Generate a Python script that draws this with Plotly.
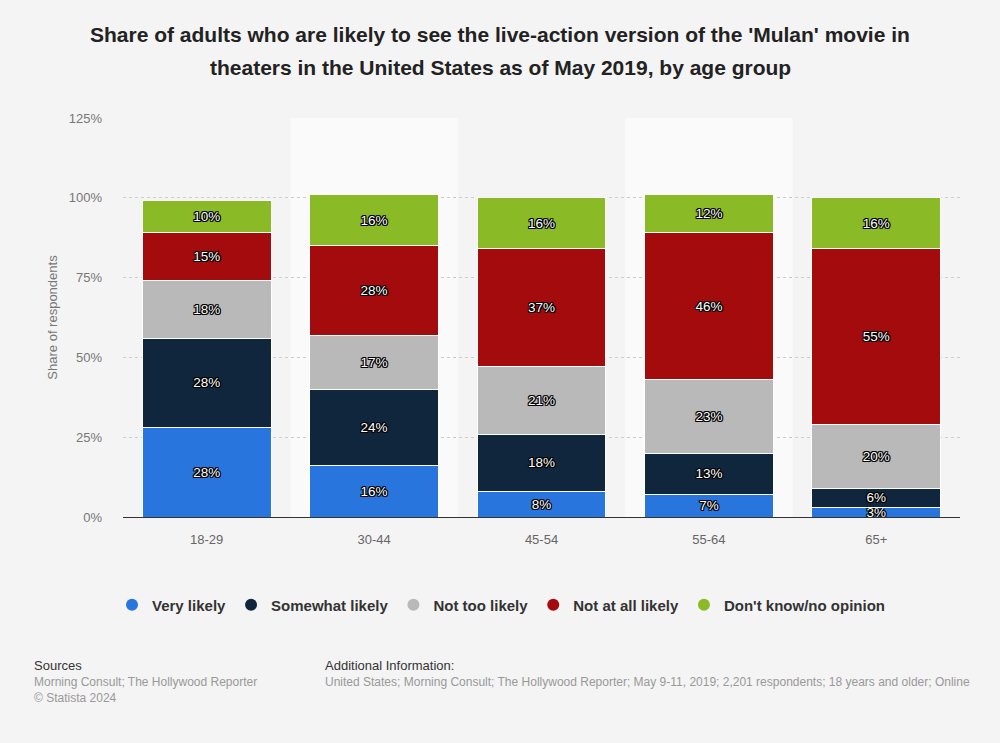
import plotly.graph_objects as go

categories = ["18-29", "30-44", "45-54", "55-64", "65+"]
series_names = ["Very likely", "Somewhat likely", "Not too likely", "Not at all likely", "Don't know/no opinion"]
very_likely = [28, 16, 8, 7, 3]
somewhat_likely = [28, 24, 18, 13, 6]
not_too_likely = [18, 17, 21, 23, 20]
not_at_all_likely = [15, 28, 37, 46, 55]
dont_know = [10, 16, 16, 12, 16]
y_ticks = [0, 25, 50, 75, 100, 125]
y_tick_labels = ["0%", "25%", "50%", "75%", "100%", "125%"]

colors = ["#2876dd", "#10263d", "#b9b9b9", "#a30b0c", "#8abb26"]
series_values = [very_likely, somewhat_likely, not_too_likely, not_at_all_likely, dont_know]

FONT = "Liberation Sans, Arial, sans-serif"
outline = ("-1px -1px 0 #000, 1px -1px 0 #000, -1px 1px 0 #000, 1px 1px 0 #000, "
           "0 1px 0 #000, 0 -1px 0 #000, 1px 0 0 #000, -1px 0 0 #000")

L, R, T, B = 123, 960, 118, 517
W, H = 1000, 743

def px(x):
    return (x - L) / (R - L)

def py(y):
    return (B - y) / (B - T)

fig = go.Figure()
for name, vals, col in zip(series_names, series_values, colors):
    fig.add_trace(go.Bar(
        x=categories, y=vals, name=name,
        marker=dict(color=col, line=dict(color="#ffffff", width=1)),
        text=[f"{v}%" for v in vals], textposition="inside", insidetextanchor="middle",
        textfont=dict(family=FONT, size=13.5, color="#ffffff", shadow=outline),
        constraintext="none", cliponaxis=False,
        showlegend=False, hoverinfo="skip",
    ))
for name, col in zip(series_names, colors):
    fig.add_trace(go.Scatter(
        x=[None], y=[None], mode="markers", name=name,
        marker=dict(symbol="circle", size=15, color=col), showlegend=True,
    ))

shapes = []
for i in [1, 3]:
    shapes.append(dict(type="rect", xref="x", yref="paper", x0=i - 0.5, x1=i + 0.5, y0=0, y1=1,
                       fillcolor="#fafafa", line=dict(width=0), layer="below"))

fig.update_layout(
    barmode="stack", bargap=0.23,
    width=W, height=H,
    paper_bgcolor="#f4f4f4", plot_bgcolor="rgba(0,0,0,0)",
    margin=dict(l=L, r=W - R, t=T, b=H - B),
    font=dict(family=FONT, color="#666666"),
    xaxis=dict(type="category", showgrid=False, showline=True, linecolor="#333333", linewidth=1,
               ticks="", ticklabelstandoff=10, tickfont=dict(size=13, color="#666666"), fixedrange=True),
    yaxis=dict(range=[0, 125], tickvals=y_ticks, ticktext=y_tick_labels,
               showgrid=True, gridcolor="#cccccc", griddash="dot", gridwidth=1,
               zeroline=False, showline=False, ticks="", ticklabelstandoff=20,
               tickfont=dict(size=13, color="#777777"),
               title=dict(text="Share of respondents", font=dict(size=13, color="#777777"), standoff=8)),
    legend=dict(orientation="h", x=px(501), xanchor="center", y=py(605), yanchor="middle",
                font=dict(family=FONT, size=15, color="#333333", weight="bold"),
                itemsizing="constant", traceorder="normal", bgcolor="rgba(0,0,0,0)"),
    shapes=shapes,
)

title_lines = [
    ("Share of adults who are likely to see the live-action version of the 'Mulan' movie in", 35),
    ("theaters in the United States as of May 2019, by age group", 68),
]
for text, yy in title_lines:
    fig.add_annotation(text=text, xref="paper", yref="paper", x=px(500), y=py(yy),
                       xanchor="center", yanchor="middle", showarrow=False,
                       font=dict(family=FONT, size=21, color="#222222", weight="bold"))

annotations = [
    dict(text="Sources", x=32, y=665, size=13, color="#333333"),
    dict(text="Morning Consult; The Hollywood Reporter", x=32, y=682, size=12, color="#999999"),
    dict(text="© Statista 2024", x=32, y=698, size=12, color="#999999"),
    dict(text="Additional Information:", x=323, y=665, size=13, color="#333333"),
    dict(text="United States; Morning Consult; The Hollywood Reporter; May 9-11, 2019; 2,201 respondents; 18 years and older; Online",
         x=323, y=682, size=12, color="#999999"),
]
for a in annotations:
    fig.add_annotation(text=a["text"], xref="paper", yref="paper",
                       x=px(a["x"]), y=py(a["y"]),
                       xanchor="left", yanchor="middle", showarrow=False,
                       font=dict(family=FONT, size=a["size"], color=a["color"]))

fig.write_html("out.html", config={"displayModeBar": False},
               post_script="document.body.style.margin='0';document.body.style.padding='0';")
